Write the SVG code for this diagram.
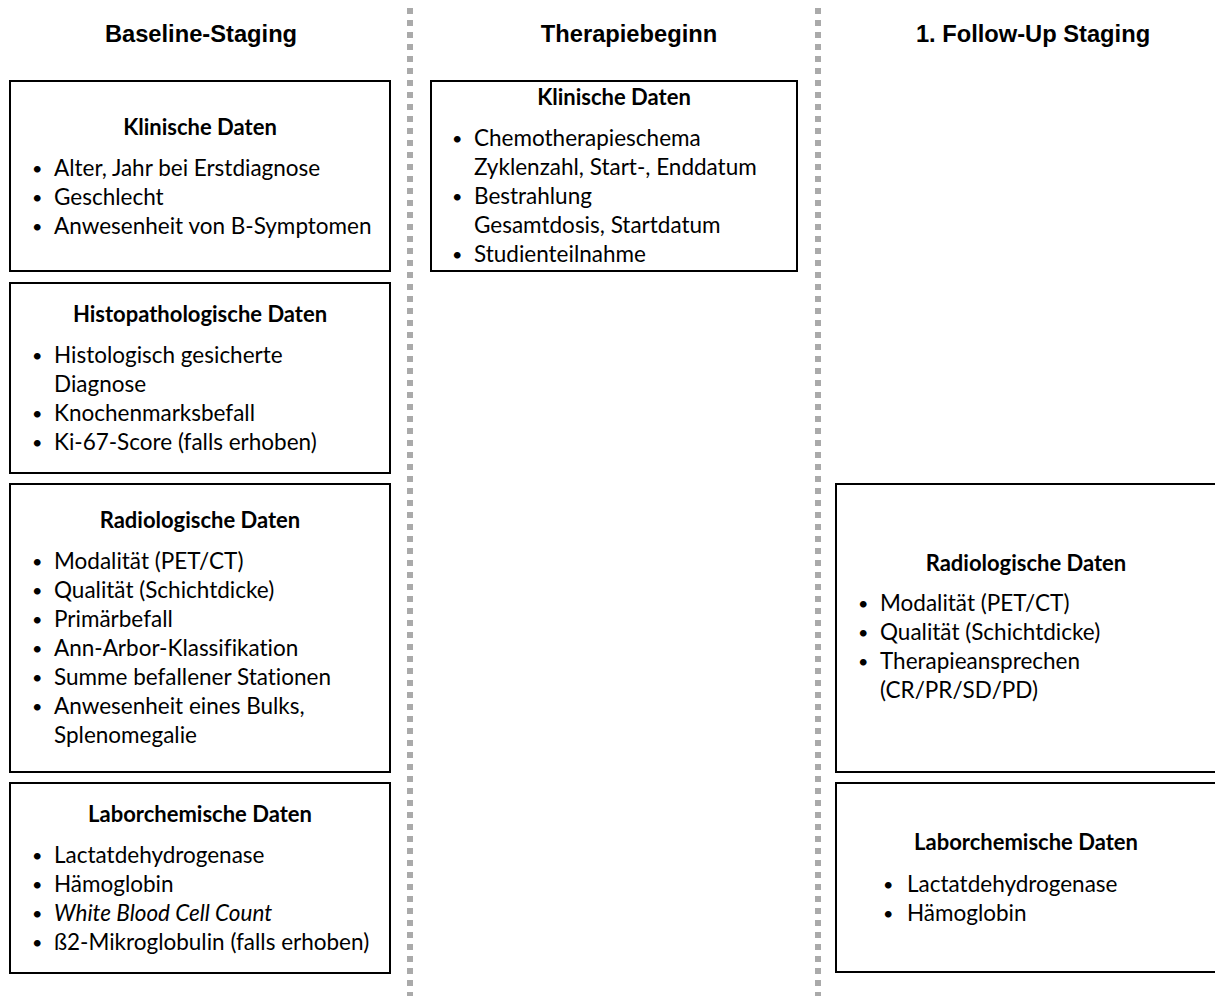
<svg xmlns="http://www.w3.org/2000/svg" width="1215" height="996" viewBox="0 0 1215 996">
<style>
.hdr{font-family:"Liberation Sans",Arial,sans-serif;font-weight:bold;font-size:23.7px;text-anchor:middle;fill:#000}
.ttl{font-family:Lato,"Open Sans",sans-serif;font-weight:bold;font-size:22px;text-anchor:middle;fill:#000;font-variant-ligatures:none}
.itm{font-family:Lato,"Open Sans",sans-serif;font-size:22.5px;fill:#000;font-variant-ligatures:none}
.bul{font-family:Lato,"Open Sans",sans-serif;font-size:18px;fill:#000}
.box{fill:#fff;stroke:#000;stroke-width:2}
.sep{stroke:#aaa;stroke-width:6;stroke-dasharray:6 6;fill:none}
</style>
<rect width="1215" height="996" fill="#fff"/>
<g id="separators">
<line class="sep" x1="410" y1="8" x2="410" y2="996"/>
<line class="sep" x1="818" y1="8" x2="818" y2="996"/>
</g>
<g id="headers">
<text class="hdr" x="201" y="42">Baseline-Staging</text>
<text class="hdr" x="629" y="42">Therapiebeginn</text>
<text class="hdr" x="1033" y="42">1. Follow-Up Staging</text>
</g>
<g id="connectors"></g>
<g id="baseline-klinisch">
<rect class="box" x="10" y="81" width="380" height="190"/>
<text class="ttl" x="200" y="135">Klinische Daten</text>
<text class="bul" x="32" y="175">•</text><text class="itm" x="54" y="176">Alter, Jahr bei Erstdiagnose</text>
<text class="bul" x="32" y="204">•</text><text class="itm" x="54" y="205">Geschlecht</text>
<text class="bul" x="32" y="233">•</text><text class="itm" x="54" y="234">Anwesenheit von B-Symptomen</text>
</g>
<g id="baseline-histo">
<rect class="box" x="10" y="283" width="380" height="190"/>
<text class="ttl" x="200" y="322">Histopathologische Daten</text>
<text class="bul" x="32" y="362">•</text><text class="itm" x="54" y="363">Histologisch gesicherte</text>
<text class="itm" x="54" y="392">Diagnose</text>
<text class="bul" x="32" y="420">•</text><text class="itm" x="54" y="421">Knochenmarksbefall</text>
<text class="bul" x="32" y="449">•</text><text class="itm" x="54" y="450">Ki-67-Score (falls erhoben)</text>
</g>
<g id="baseline-radio">
<rect class="box" x="10" y="484" width="380" height="288"/>
<text class="ttl" x="200" y="528">Radiologische Daten</text>
<text class="bul" x="32" y="568">•</text><text class="itm" x="54" y="569">Modalität (PET/CT)</text>
<text class="bul" x="32" y="597">•</text><text class="itm" x="54" y="598">Qualität (Schichtdicke)</text>
<text class="bul" x="32" y="626">•</text><text class="itm" x="54" y="627">Primärbefall</text>
<text class="bul" x="32" y="655">•</text><text class="itm" x="54" y="656">Ann-Arbor-Klassifikation</text>
<text class="bul" x="32" y="684">•</text><text class="itm" x="54" y="685">Summe befallener Stationen</text>
<text class="bul" x="32" y="713">•</text><text class="itm" x="54" y="714">Anwesenheit eines Bulks,</text>
<text class="itm" x="54" y="743">Splenomegalie</text>
</g>
<g id="baseline-labor">
<rect class="box" x="10" y="783" width="380" height="190"/>
<text class="ttl" x="200" y="822">Laborchemische Daten</text>
<text class="bul" x="32" y="862">•</text><text class="itm" x="54" y="863">Lactatdehydrogenase</text>
<text class="bul" x="32" y="891">•</text><text class="itm" x="54" y="892">Hämoglobin</text>
<text class="bul" x="32" y="920">•</text><text class="itm" x="54" y="921" font-style="italic">White Blood Cell Count</text>
<text class="bul" x="32" y="949">•</text><text class="itm" x="54" y="950">ß2-Mikroglobulin (falls erhoben)</text>
</g>
<g id="therapie-klinisch">
<rect class="box" x="431" y="81" width="366" height="190"/>
<text class="ttl" x="614" y="105">Klinische Daten</text>
<text class="bul" x="452" y="145">•</text><text class="itm" x="474" y="146">Chemotherapieschema</text>
<text class="itm" x="474" y="175">Zyklenzahl, Start-, Enddatum</text>
<text class="bul" x="452" y="203">•</text><text class="itm" x="474" y="204">Bestrahlung</text>
<text class="itm" x="474" y="233">Gesamtdosis, Startdatum</text>
<text class="bul" x="452" y="261">•</text><text class="itm" x="474" y="262">Studienteilnahme</text>
</g>
<g id="followup-radio">
<rect class="box" x="836" y="484" width="400" height="288"/>
<text class="ttl" x="1026" y="571">Radiologische Daten</text>
<text class="bul" x="858" y="610">•</text><text class="itm" x="880" y="611">Modalität (PET/CT)</text>
<text class="bul" x="858" y="639">•</text><text class="itm" x="880" y="640">Qualität (Schichtdicke)</text>
<text class="bul" x="858" y="668">•</text><text class="itm" x="880" y="669">Therapieansprechen</text>
<text class="itm" x="880" y="698">(CR/PR/SD/PD)</text>
</g>
<g id="followup-labor">
<rect class="box" x="836" y="783" width="400" height="189"/>
<text class="ttl" x="1026" y="850">Laborchemische Daten</text>
<text class="bul" x="883" y="891">•</text><text class="itm" x="907" y="892">Lactatdehydrogenase</text>
<text class="bul" x="883" y="920">•</text><text class="itm" x="907" y="921">Hämoglobin</text>
</g>
</svg>
